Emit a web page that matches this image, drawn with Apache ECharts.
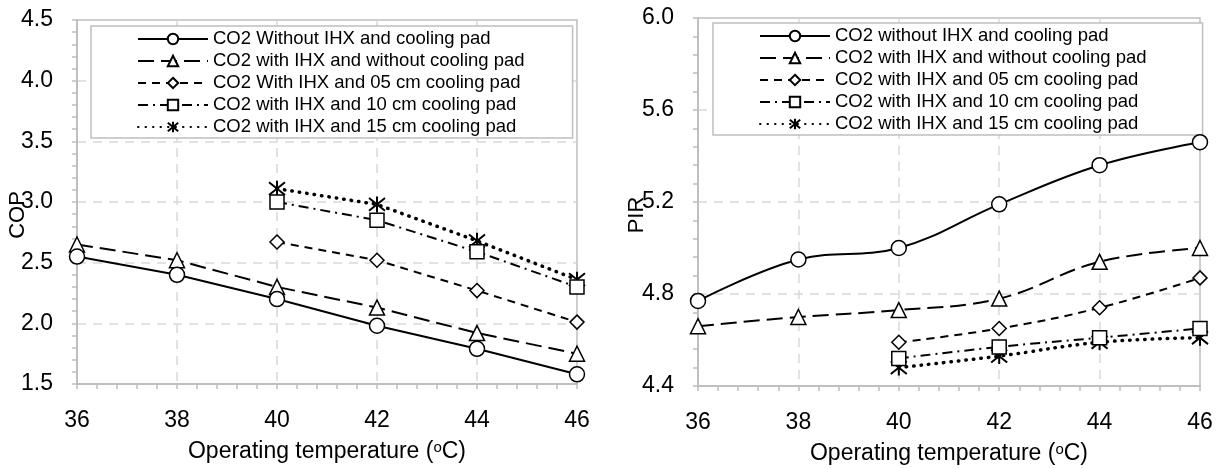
<!DOCTYPE html>
<html>
<head>
<meta charset="utf-8">
<script src="https://cdn.jsdelivr.net/npm/echarts@6/dist/echarts.min.js"></script>
<style>
  html, body { margin: 0; padding: 0; background: #fff; }
  #wrap { position: relative; width: 1231px; height: 468px; }
  #cop { position: absolute; left: 0; top: 0; width: 620px; height: 468px; }
  #pir { position: absolute; left: 620px; top: 0; width: 611px; height: 468px; }
</style>
</head>
<body>
<div id="wrap">
  <div id="cop"></div>
  <div id="pir"></div>
</div>
<script>
// operating temperature (oC)
var temps = [36, 38, 40, 42, 44, 46];
var padTemps = [40, 42, 44, 46];

// left: COP
var copNames = [
  'CO2 Without IHX and cooling pad',
  'CO2 with IHX and without cooling pad',
  'CO2 With IHX and 05 cm cooling pad',
  'CO2 with IHX and 10 cm cooling pad',
  'CO2 with IHX and 15 cm cooling pad'
];
var copNoIhx = [2.55, 2.40, 2.20, 1.98, 1.79, 1.58];
var copIhx = [2.65, 2.52, 2.30, 2.13, 1.92, 1.75];
var copPad05 = [2.67, 2.52, 2.27, 2.01];
var copPad10 = [3.00, 2.85, 2.59, 2.30];
var copPad15 = [3.11, 2.98, 2.68, 2.36];
var copTicks = [1.5, 2.0, 2.5, 3.0, 3.5, 4.0, 4.5];

// right: PIR
var pirNames = [
  'CO2 without IHX and cooling pad',
  'CO2 with IHX and without cooling pad',
  'CO2 with IHX and 05 cm cooling pad',
  'CO2 with IHX and 10 cm cooling pad',
  'CO2 with IHX and 15 cm cooling pad'
];
var pirNoIhx = [4.77, 4.95, 5.00, 5.19, 5.36, 5.46];
var pirIhx = [4.66, 4.70, 4.73, 4.78, 4.94, 5.00];
var pirPad05 = [4.59, 4.65, 4.74, 4.87];
var pirPad10 = [4.52, 4.57, 4.61, 4.65];
var pirPad15 = [4.48, 4.53, 4.59, 4.61];
var pirTicks = [4.4, 4.8, 5.2, 5.6, 6.0];

var FONT = 'Liberation Sans, Arial, sans-serif';
var GRAY = '#bfbfbf';
var asterisk = 'path://M1,1L9,9M9,1L1,9M5,0L5,10';

// marker + line look of the 5 series (same on both charts)
var looks = [
  { symbol: 'circle', size: 15, type: 'solid', width: 2 },
  { symbol: 'triangle', size: 15, type: [16, 7], width: 2 },
  { symbol: 'diamond', size: 14, type: [8, 6], width: 2 },
  { symbol: 'rect', size: 14, type: [10, 5, 2, 5], width: 2 },
  { symbol: asterisk, size: 16, type: [0.5, 7], width: 3.5, cap: 'round' }
];

function pairs(xs, ys) {
  return ys.map(function (y, i) { return [xs[i], y]; });
}

function makeSeries(names, data, smooth) {
  return names.map(function (name, i) {
    var lk = looks[i];
    return {
      name: name,
      type: 'line',
      data: data[i],
      smooth: smooth,
      symbol: lk.symbol,
      symbolSize: lk.size,
      showAllSymbol: true,
      lineStyle: { color: '#000', width: lk.width, type: lk.type, cap: lk.cap || 'butt' },
      itemStyle: { color: '#fff', borderColor: '#000', borderWidth: i === 4 ? 2 : 1.5 },
      emphasis: { disabled: true },
      z: 10 - i
    };
  });
}

function makeOption(cfg) {
  return {
    animation: false,
    textStyle: { fontFamily: FONT },
    grid: {
      left: cfg.grid[0], right: cfg.grid[1], top: cfg.grid[2], bottom: cfg.grid[3],
      outerBoundsMode: 'none',
      containLabel: false,
      show: true, borderColor: GRAY, borderWidth: 1.5, backgroundColor: 'transparent'
    },
    legend: {
      orient: 'vertical',
      left: cfg.legendLeft,
      top: cfg.legendTop,
      padding: [2, cfg.legendRightPad, 0, 46],
      itemWidth: 70,
      itemHeight: 13,
      itemGap: 0,
      selectedMode: false,
      borderColor: GRAY,
      borderWidth: 1.5,
      backgroundColor: '#fff',
      textStyle: { fontSize: 18.5, color: '#000', lineHeight: 22, fontFamily: FONT },
      data: cfg.names
    },
    xAxis: {
      type: 'value',
      min: temps[0],
      max: temps[temps.length - 1],
      interval: 2,
      name: 'Operating temperature ({sup|o}C)',
      nameLocation: 'middle',
      nameGap: 56,
      nameMoveOverlap: false,
      nameTextStyle: {
        fontSize: 23, color: '#000', fontFamily: FONT,
        rich: { sup: { fontSize: 15, verticalAlign: 'top', lineHeight: 16, color: '#000', fontFamily: FONT } }
      },
      axisLine: { lineStyle: { color: GRAY, width: 2 } },
      axisTick: { show: true, length: 5, lineStyle: { color: GRAY, width: 1.5 } },
      minorTick: { show: true, splitNumber: 5, length: 5, lineStyle: { color: GRAY, width: 1.5 } },
      axisLabel: { fontSize: 23, color: '#000', margin: 25, fontFamily: FONT },
      splitLine: { show: true, showMinLine: false, showMaxLine: false, lineStyle: { color: '#d9d9d9', width: 1.5, type: [9, 7] } }
    },
    yAxis: {
      type: 'value',
      min: cfg.ticks[0],
      max: cfg.ticks[cfg.ticks.length - 1],
      interval: cfg.step,
      name: cfg.yName,
      nameLocation: 'middle',
      nameGap: cfg.nameGap,
      nameMoveOverlap: false,
      nameTextStyle: { fontSize: 22, color: '#000', fontFamily: FONT, padding: [0, 26, 0, 0] },
      axisLine: { show: true, lineStyle: { color: GRAY, width: 2 } },
      axisTick: { show: true, length: 5, lineStyle: { color: GRAY, width: 1.5 } },
      minorTick: { show: true, splitNumber: 5, length: 5, lineStyle: { color: GRAY, width: 1.5 } },
      axisLabel: {
        fontSize: 23, color: '#000', margin: 24, fontFamily: FONT,
        formatter: function (v) { return v.toFixed(1); }
      },
      splitLine: { show: true, showMinLine: false, showMaxLine: false, lineStyle: { color: '#d9d9d9', width: 1.5, type: [9, 7] } }
    },
    series: cfg.series
  };
}

var copChart = echarts.init(document.getElementById('cop'));
copChart.setOption(makeOption({
  grid: [77, 43, 20, 84],
  legendLeft: 91,
  legendTop: 26,
  legendRightPad: 48,
  names: copNames,
  ticks: copTicks,
  step: 0.5,
  yName: 'COP',
  nameGap: 48,
  series: makeSeries(copNames, [
    pairs(temps, copNoIhx),
    pairs(temps, copIhx),
    pairs(padTemps, copPad05),
    pairs(padTemps, copPad10),
    pairs(padTemps, copPad15)
  ], false)
}));

var pirChart = echarts.init(document.getElementById('pir'));
pirChart.setOption(makeOption({
  grid: [78, 31, 18, 82],
  legendLeft: 93,
  legendTop: 23,
  legendRightPad: 56,
  names: pirNames,
  ticks: pirTicks,
  step: 0.4,
  yName: 'PIR',
  nameGap: 50,
  series: makeSeries(pirNames, [
    pairs(temps, pirNoIhx),
    pairs(temps, pirIhx),
    pairs(padTemps, pirPad05),
    pairs(padTemps, pirPad10),
    pairs(padTemps, pirPad15)
  ], 0.4)
}));
</script>
</body>
</html>
